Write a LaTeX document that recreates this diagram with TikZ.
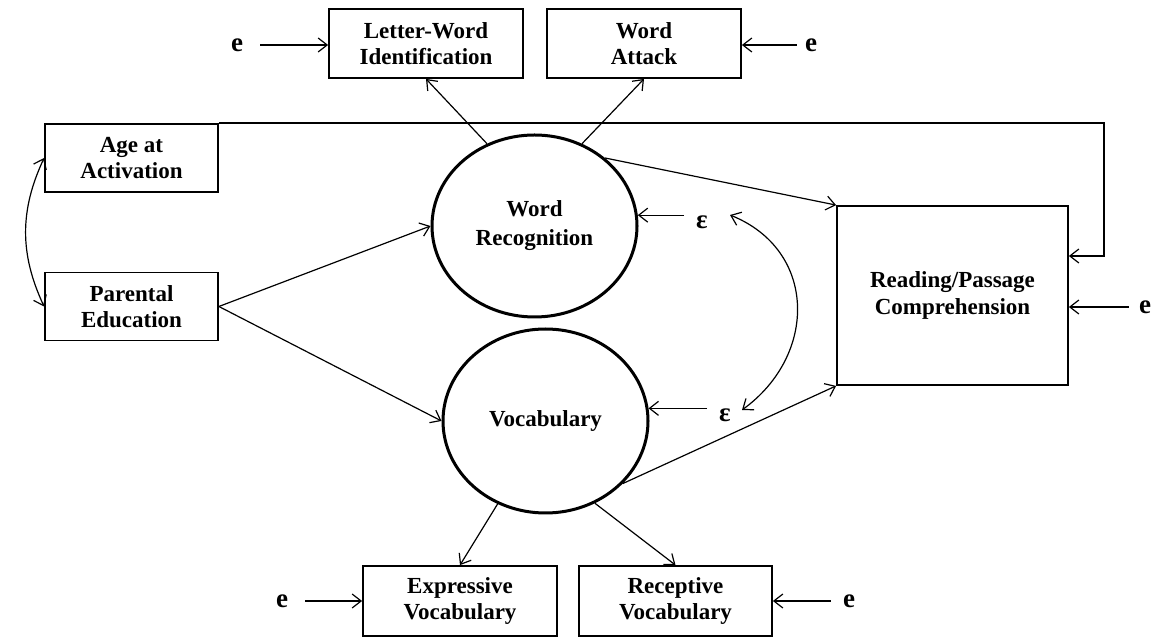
\documentclass[tikz,border=0pt]{standalone}
\usepackage{fontspec}
\setmainfont{Liberation Serif}
\usetikzlibrary{arrows.meta}
\usetikzlibrary{shapes.geometric}

\begin{document}
\begin{tikzpicture}[x=1pt,y=1pt]

          \tikzstyle{boxNode} = [draw, line width=1.8pt, align=center, inner sep=0pt, font=\fontsize{23}{26.5}\selectfont\bfseries];
          \tikzstyle{latentNode} = [draw, ellipse, line width=3pt, align=center, inner sep=0pt, font=\fontsize{23}{29}\selectfont\bfseries];
          \tikzstyle{errNode} = [inner sep=2pt, font=\fontsize{27}{27}\selectfont\bfseries];

          \tikzstyle{pathEdge} = [line width=1.2pt, -{Straight Barb[length=9pt,width=14pt,line width=1.2pt]}];
          \tikzstyle{covEdge} = [line width=1.2pt, {Straight Barb[length=9pt,width=14pt,line width=1.2pt]}-{Straight Barb[length=9pt,width=14pt,line width=1.2pt]}];

          \useasboundingbox (0,0) rectangle (1157,637);

          % observed indicators
          \node[boxNode, minimum width=194, minimum height=69] (lw) at (426,593.5) {Letter-Word\\Identification};
          \node[boxNode, minimum width=194, minimum height=69] (wa) at (644,593.5) {Word\\Attack};
          \node[boxNode, minimum width=194, minimum height=70] (exv) at (460,36) {Expressive\\Vocabulary};
          \node[boxNode, minimum width=193, minimum height=70] (rcv) at (675.5,36) {Receptive\\Vocabulary};

          % predictors and outcome
          \node[boxNode, minimum width=173, minimum height=68] (age) at (131.5,479) {Age at\\Activation};
          \node[boxNode, minimum width=173, minimum height=68] (par) at (131.5,330.5) {Parental\\Education};
          \node[boxNode, minimum width=231, minimum height=179] (rc) at (952.5,341.5) {Reading/Passage\\Comprehension};

          % latent factors
          \node[latentNode, minimum width=205, minimum height=182] (wr) at (534.5,411) {Word\\Recognition};
          \node[latentNode, minimum width=205, minimum height=184] (voc) at (545.5,216) {Vocabulary};

          % errors
          \node[errNode] (e1) at (237,592) {e};
          \node[errNode] (e2) at (811,592) {e};
          \node[errNode] (e3) at (1145,330) {e};
          \node[errNode] (e4) at (282,36) {e};
          \node[errNode] (e5) at (849,36) {e};
          \node[errNode] (eps1) at (702,415) {ε};
          \node[errNode] (eps2) at (725,222) {ε};
          \coordinate (bend) at (1104,381);
          \coordinate (c1) at (730,422);
          \coordinate (c2) at (742,227);

          \draw[pathEdge] (wr.120) -- (lw.south);
          \draw[pathEdge] (wr.60) -- (wa.south);
          \draw[pathEdge] (wr.44) -- (rc.north west);
          \draw[pathEdge] (voc.-39) -- (rc.south west);
          \draw[pathEdge] (voc.-120) -- (exv.north);
          \draw[pathEdge] (voc.-59) -- (rcv.north);
          \draw[pathEdge] (par.east) -- (wr.west);
          \draw[pathEdge] (par.east) -- (voc.west);
          \draw[pathEdge] (age.north east) -| (bend) -- (bend -| rc.east);

          \draw[pathEdge, shorten <=15pt] (e1) -- (e1 -| lw.west);
          \draw[pathEdge, shorten <=6pt] (e2) -- (e2 -| wa.east);
          \draw[pathEdge, shorten <=8pt] (e3) -- (e3 -| rc.east);
          \draw[pathEdge, shorten <=15pt] (e4) -- (e4 -| exv.west);
          \draw[pathEdge, shorten <=10pt] (e5) -- (e5 -| rcv.east);
          \draw[pathEdge, shorten <=10pt] (eps1.west |- wr.6) -- (wr.6);
          \draw[pathEdge, shorten <=10pt] (eps2.west |- voc.7) -- (voc.7);

          \draw[covEdge] (age.west) to[bend right=25] (par.west);
          \draw[covEdge] (c1) to[out=-22, in=36, looseness=1.23] (c2);
        \end{tikzpicture}
\end{document}
